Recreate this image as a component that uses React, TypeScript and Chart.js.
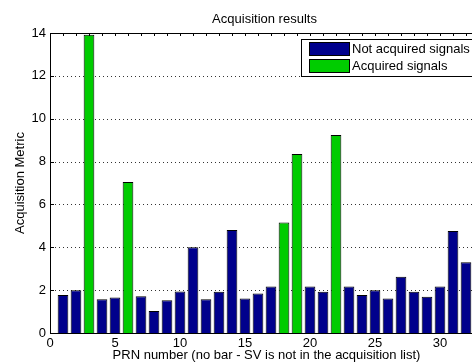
import React, { useEffect, useRef } from "react";
import { Chart, registerables } from "chart.js";

Chart.register(...registerables);

const prnNumbers = [1,2,3,4,5,6,7,8,9,10,11,12,13,14,15,16,17,18,19,20,21,22,23,24,25,26,27,28,29,30,31,32];
const metricValues = [1.77,2.0,13.92,1.58,1.66,7.05,1.72,1.03,1.53,1.94,4.0,1.58,1.92,4.81,1.61,1.84,2.17,5.16,8.35,2.17,1.92,9.24,2.17,1.77,2.0,1.61,2.63,1.92,1.69,2.17,4.76,3.30];
const acquiredPrns = [3, 6, 18, 19, 22];

const chartTitle = "Acquisition results";
const xTitle = "PRN number (no bar - SV is not in the acquisition list)";
const yTitle = "Acquisition Metric";
const legendLabels = ["Not acquired signals", "Acquired signals"];
const yGridValues = [2, 4, 6, 8, 10, 12];

const BLUE = "#00008c";
const GREEN = "#00cc00";
const FONT = "'Liberation Sans', Arial, Helvetica, sans-serif";

export default function App() {
  const ref = useRef<HTMLCanvasElement | null>(null);

  useEffect(() => {
    const canvas = ref.current;
    if (!canvas) return;

    const notAcq = prnNumbers
      .map((p, i) => ({ x: p, y: metricValues[i] }))
      .filter((d) => !acquiredPrns.includes(d.x));
    const acq = prnNumbers
      .map((p, i) => ({ x: p, y: metricValues[i] }))
      .filter((d) => acquiredPrns.includes(d.x));

    const decor = {
      id: "matlabDecor",
      beforeDatasetsDraw(chart: any) {
        const { ctx, chartArea } = chart;
        const ys = chart.scales.y;
        ctx.save();
        ctx.strokeStyle = "rgba(0,0,0,0.8)";
        ctx.lineWidth = 1;
        ctx.setLineDash([1, 3]);
        for (const v of yGridValues) {
          const py = Math.round(ys.getPixelForValue(v)) + 0.5;
          ctx.beginPath();
          ctx.moveTo(chartArea.left + 1, py);
          ctx.lineTo(chartArea.right, py);
          ctx.stroke();
        }
        ctx.restore();
      },
      afterDatasetsDraw(chart: any) {
        const { ctx, chartArea } = chart;
        const xs = chart.scales.x;
        const ys = chart.scales.y;
        ctx.save();
        ctx.strokeStyle = "#000";
        ctx.lineWidth = 1;
        // top border
        ctx.beginPath();
        ctx.moveTo(chartArea.left, Math.round(chartArea.top) + 0.5);
        ctx.lineTo(chartArea.right, Math.round(chartArea.top) + 0.5);
        ctx.stroke();
        // top ticks inward each unit
        for (let v = 1; v <= 33; v++) {
          const px = Math.round(xs.getPixelForValue(v)) + 0.5;
          ctx.beginPath();
          ctx.moveTo(px, chartArea.top);
          ctx.lineTo(px, chartArea.top + 3);
          ctx.stroke();
        }
        // left ticks inward
        for (const v of yGridValues) {
          const py = Math.round(ys.getPixelForValue(v)) + 0.5;
          ctx.beginPath();
          ctx.moveTo(chartArea.left, py);
          ctx.lineTo(chartArea.left + 4, py);
          ctx.stroke();
        }
        // title
        ctx.fillStyle = "#000";
        ctx.font = `13px ${FONT}`;
        ctx.textAlign = "center";
        ctx.textBaseline = "alphabetic";
        ctx.fillText(chartTitle, (chartArea.left + chartArea.right) / 2, 23);
        // x title
        ctx.fillText(xTitle, (chartArea.left + chartArea.right) / 2 + 2, 359);
        // y title
        ctx.save();
        ctx.translate(24, (chartArea.top + chartArea.bottom) / 2);
        ctx.rotate(-Math.PI / 2);
        ctx.fillText(yTitle, 0, 0);
        ctx.restore();
        // legend
        ctx.fillStyle = "#fff";
        ctx.fillRect(301, 39, 220, 37);
        ctx.strokeRect(301.5, 39.5, 220, 37);
        const cols = [BLUE, GREEN];
        const ys0 = [42, 59];
        ctx.textAlign = "left";
        ctx.textBaseline = "middle";
        for (let i = 0; i < 2; i++) {
          ctx.fillStyle = cols[i];
          ctx.fillRect(309, ys0[i], 40, 13);
          ctx.strokeRect(309.5, ys0[i] + 0.5, 40, 13);
          ctx.fillStyle = "#000";
          ctx.font = `13px ${FONT}`;
          ctx.fillText(legendLabels[i], 352, ys0[i] + 7.5);
        }
        ctx.restore();
      },
    };

    const chart = new Chart(canvas, {
      type: "bar",
      data: {
        datasets: [
          {
            label: legendLabels[0],
            data: notAcq,
            backgroundColor: BLUE,
            borderColor: "#000",
            borderWidth: 1,
            grouped: false,
            barPercentage: 0.82,
            categoryPercentage: 1,
          } as any,
          {
            label: legendLabels[1],
            data: acq,
            backgroundColor: GREEN,
            borderColor: "#000",
            borderWidth: 1,
            grouped: false,
            barPercentage: 0.82,
            categoryPercentage: 1,
          } as any,
        ],
      },
      options: {
        animation: false,
        responsive: false,
        devicePixelRatio: 1,
        layout: { padding: { top: 33, right: 21, left: 0, bottom: 0 } },
        plugins: { legend: { display: false }, tooltip: { enabled: false }, title: { display: false } },
        scales: {
          x: {
            type: "linear",
            min: 0,
            max: 33,
            offset: false,
            grid: { display: false, drawTicks: false },
            border: { display: true, color: "#000", width: 1 },
            ticks: {
              stepSize: 5,
              includeBounds: false,
              padding: 3,
              color: "#000",
              font: { family: FONT, size: 13 },
              maxRotation: 0,
            },
            afterFit: (s: any) => {
              s.height = 30;
            },
          },
          y: {
            min: 0,
            max: 14,
            grid: { display: false, drawTicks: false },
            border: { display: true, color: "#000", width: 1 },
            ticks: {
              stepSize: 2,
              padding: 4,
              color: "#000",
              font: { family: FONT, size: 13 },
            },
            afterFit: (s: any) => {
              s.width = 50;
            },
          },
        },
      } as any,
      plugins: [decor],
    });

    return () => chart.destroy();
  }, []);

  return (
    <div style={{ position: "fixed", left: 0, top: 0, width: 472, height: 363, overflow: "hidden", background: "#fff" }}>
      <canvas ref={ref} width={500} height={363} style={{ display: "block", width: 500, height: 363 }} />
    </div>
  );
}
